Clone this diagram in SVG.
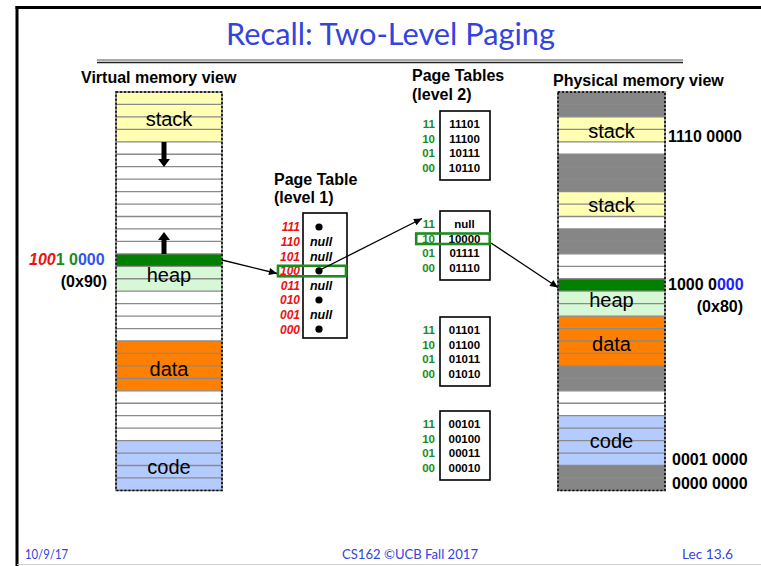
<svg xmlns="http://www.w3.org/2000/svg" width="761" height="566" viewBox="0 0 761 566">
<defs>
<style>
.h{font-family:"Liberation Sans",Arial,sans-serif;font-weight:bold;font-size:16px;fill:#000}
.mem{font-family:"Liberation Sans",Arial,sans-serif;font-size:20px;fill:#000;text-anchor:middle}
.addr{font-family:"Liberation Sans",Arial,sans-serif;font-weight:bold;font-size:16px;fill:#000}
.l1{font-family:"Liberation Sans",Arial,sans-serif;font-weight:bold;font-style:italic;font-size:12px;fill:#ee1111;text-anchor:end}
.nul{font-family:"Liberation Sans",Arial,sans-serif;font-weight:bold;font-style:italic;font-size:12.5px;fill:#000;text-anchor:middle}
.l2k{font-family:"Liberation Sans",Arial,sans-serif;font-weight:bold;font-size:11.5px;fill:#1a8c1a;text-anchor:end}
.l2v{font-family:"Liberation Sans",Arial,sans-serif;font-weight:bold;font-size:11.5px;fill:#000;text-anchor:middle}
.foot{font-family:Lato,"Liberation Sans",sans-serif;font-size:14px;fill:#3344dd}
.sep{stroke:#8a8a8a;stroke-width:1.3}
.ptbox{fill:#fff;stroke:#000;stroke-width:1.6}
.hl{fill:none;stroke:#1f8a1f;stroke-width:2.6}
.conn{stroke:#000;stroke-width:1.3;fill:none}
.yel{fill:#ffffb4}.grn{fill:#d6f8d6}.dg{fill:#007f00}.org{fill:#ff8000}.blu{fill:#b3cbff}.gry{fill:#868686}
.outer{fill:none;stroke:#777;stroke-width:1.5}
.outerd{fill:none;stroke:#000;stroke-width:1.5;stroke-dasharray:2 2}
</style>
<marker id="ah" viewBox="0 0 10 10" refX="10" refY="5" markerWidth="9" markerHeight="8" markerUnits="userSpaceOnUse" orient="auto">
<path d="M0,0.5 L10,5 L0,9.5 z" fill="#000"/>
</marker>
<g id="seps">
<line class="sep" x1="0" x2="1" y1="104.45" y2="104.45"/>
</g>
</defs>

<rect x="0" y="0" width="761" height="566" fill="#fff"/>
<!-- frame -->
<line x1="17" y1="6" x2="17" y2="566" stroke="#000" stroke-width="3"/>
<line x1="15.5" y1="7.5" x2="761" y2="7.5" stroke="#000" stroke-width="3"/>
<line x1="17" y1="564.5" x2="761" y2="564.5" stroke="#cfcfcf" stroke-width="1"/>

<g id="title">
<text x="390.5" y="45" text-anchor="middle" font-family="Lato,'Liberation Sans',sans-serif" font-size="30" fill="#3344dd" textLength="329" lengthAdjust="spacingAndGlyphs">Recall: Two-Level Paging</text>
<line x1="97" y1="60" x2="683" y2="60" stroke="#555" stroke-width="1.2"/>
<line x1="97" y1="62.6" x2="683" y2="62.6" stroke="#222" stroke-width="1.5"/>
</g>

<g id="virtual-memory">
<text class="h" x="81" y="83">Virtual memory view</text>
<rect x="116" y="92" width="106" height="398.4" fill="#fff"/>
<rect class="yel" x="116" y="92" width="106" height="49.8"/>
<rect class="dg" x="116" y="253.85" width="106" height="12.45"/>
<rect class="grn" x="116" y="266.3" width="106" height="24.9"/>
<rect class="org" x="116" y="341" width="106" height="49.8"/>
<rect class="blu" x="116" y="440.6" width="106" height="49.8"/>
<g class="sep">
<line x1="116" x2="222" y1="104.45" y2="104.45"/><line x1="116" x2="222" y1="116.9" y2="116.9"/><line x1="116" x2="222" y1="129.35" y2="129.35"/><line x1="116" x2="222" y1="141.8" y2="141.8"/><line x1="116" x2="222" y1="154.25" y2="154.25"/><line x1="116" x2="222" y1="166.7" y2="166.7"/><line x1="116" x2="222" y1="179.15" y2="179.15"/><line x1="116" x2="222" y1="191.6" y2="191.6"/><line x1="116" x2="222" y1="204.05" y2="204.05"/><line x1="116" x2="222" y1="216.5" y2="216.5"/><line x1="116" x2="222" y1="228.95" y2="228.95"/><line x1="116" x2="222" y1="241.4" y2="241.4"/><line x1="116" x2="222" y1="253.85" y2="253.85"/><line x1="116" x2="222" y1="266.3" y2="266.3"/><line x1="116" x2="222" y1="278.75" y2="278.75"/><line x1="116" x2="222" y1="291.2" y2="291.2"/><line x1="116" x2="222" y1="303.65" y2="303.65"/><line x1="116" x2="222" y1="316.1" y2="316.1"/><line x1="116" x2="222" y1="328.55" y2="328.55"/><line x1="116" x2="222" y1="341" y2="341"/><line x1="116" x2="222" y1="353.45" y2="353.45"/><line x1="116" x2="222" y1="365.9" y2="365.9"/><line x1="116" x2="222" y1="378.35" y2="378.35"/><line x1="116" x2="222" y1="390.8" y2="390.8"/><line x1="116" x2="222" y1="403.25" y2="403.25"/><line x1="116" x2="222" y1="415.7" y2="415.7"/><line x1="116" x2="222" y1="428.15" y2="428.15"/><line x1="116" x2="222" y1="440.6" y2="440.6"/><line x1="116" x2="222" y1="453.05" y2="453.05"/><line x1="116" x2="222" y1="465.5" y2="465.5"/><line x1="116" x2="222" y1="477.95" y2="477.95"/>
</g>
<rect class="outer" x="116" y="92" width="106" height="398.4"/>
<rect class="outerd" x="116" y="92" width="106" height="398.4"/>
<path d="M161.5,142 H166.5 V159 H170 L164,167 L158,159 H161.5 Z" fill="#000"/>
<path d="M161.5,254 H166.5 V240 H170 L164,232 L158,240 H161.5 Z" fill="#000"/>
<text class="mem" x="169" y="126">stack</text>
<text class="mem" x="169" y="282">heap</text>
<text class="mem" x="169" y="376">data</text>
<text class="mem" x="169" y="474">code</text>
<text class="addr" x="29" y="265"><tspan fill="#ee1111" font-style="italic">100</tspan><tspan fill="#1a8c1a">1 0</tspan><tspan fill="#3355ee">000</tspan></text>
<text class="addr" x="107" y="287" text-anchor="end">(0x90)</text>
</g>

<g id="page-table-l1">
<text class="h" x="274" y="185">Page Table</text>
<text class="h" x="274" y="203">(level 1)</text>
<rect class="ptbox" x="303" y="213" width="44" height="125"/>
<text class="l1" x="300" y="231.3">111</text>
<text class="l1" x="300" y="245.9">110</text>
<text class="l1" x="300" y="260.5">101</text>
<text class="l1" x="300" y="275.1">100</text>
<text class="l1" x="300" y="289.7">011</text>
<text class="l1" x="300" y="304.3">010</text>
<text class="l1" x="300" y="318.9">001</text>
<text class="l1" x="300" y="333.5">000</text>
<circle cx="319" cy="227" r="3.6" fill="#000"/>
<text class="nul" x="321" y="246">null</text>
<text class="nul" x="321" y="260.6">null</text>
<circle cx="319" cy="270.8" r="3.6" fill="#000"/>
<text class="nul" x="321" y="289.8">null</text>
<circle cx="319" cy="300" r="3.6" fill="#000"/>
<text class="nul" x="321" y="319">null</text>
<circle cx="319" cy="329.2" r="3.6" fill="#000"/>
<rect class="hl" x="278" y="265.8" width="68" height="10.5"/>
</g>

<g id="page-tables-l2">
<text class="h" x="412" y="81">Page Tables</text>
<text class="h" x="412" y="100">(level 2)</text>
</g>

<g id="pt2-a">
<rect class="ptbox" x="440" y="111" width="50" height="69"/>
<text class="l2k" x="435" y="128">11</text><text class="l2v" x="464.5" y="128">11101</text>
<text class="l2k" x="435" y="142.5">10</text><text class="l2v" x="464.5" y="142.5">11100</text>
<text class="l2k" x="435" y="157">01</text><text class="l2v" x="464.5" y="157">10111</text>
<text class="l2k" x="435" y="171.5">00</text><text class="l2v" x="464.5" y="171.5">10110</text>
</g>
<g id="pt2-b">
<rect class="ptbox" x="440" y="211" width="50" height="69"/>
<text class="l2k" x="435" y="228">11</text><text class="l2v" x="464.5" y="228">null</text>
<text class="l2k" x="435" y="242.5">10</text><text class="l2v" x="464.5" y="242.5">10000</text>
<text class="l2k" x="435" y="257">01</text><text class="l2v" x="464.5" y="257">01111</text>
<text class="l2k" x="435" y="271.5">00</text><text class="l2v" x="464.5" y="271.5">01110</text>
<rect class="hl" x="416.2" y="233.5" width="73.5" height="10.5"/>
</g>
<g id="pt2-c">
<rect class="ptbox" x="440" y="317" width="50" height="69"/>
<text class="l2k" x="435" y="334">11</text><text class="l2v" x="464.5" y="334">01101</text>
<text class="l2k" x="435" y="348.5">10</text><text class="l2v" x="464.5" y="348.5">01100</text>
<text class="l2k" x="435" y="363">01</text><text class="l2v" x="464.5" y="363">01011</text>
<text class="l2k" x="435" y="377.5">00</text><text class="l2v" x="464.5" y="377.5">01010</text>
</g>
<g id="pt2-d">
<rect class="ptbox" x="440" y="411" width="50" height="69"/>
<text class="l2k" x="435" y="428">11</text><text class="l2v" x="464.5" y="428">00101</text>
<text class="l2k" x="435" y="442.5">10</text><text class="l2v" x="464.5" y="442.5">00100</text>
<text class="l2k" x="435" y="457">01</text><text class="l2v" x="464.5" y="457">00011</text>
<text class="l2k" x="435" y="471.5">00</text><text class="l2v" x="464.5" y="471.5">00010</text>
</g>

<g id="physical-memory">
<text class="h" x="553" y="86">Physical memory view</text>
<rect x="558" y="92" width="107" height="398.4" fill="#fff"/>
<rect class="gry" x="558" y="92" width="107" height="24.9"/>
<rect class="yel" x="558" y="116.9" width="107" height="24.9"/>
<rect class="gry" x="558" y="154.25" width="107" height="37.35"/>
<rect class="yel" x="558" y="191.6" width="107" height="24.9"/>
<rect class="gry" x="558" y="228.95" width="107" height="24.9"/>
<rect class="dg" x="558" y="278.75" width="107" height="12.45"/>
<rect class="grn" x="558" y="291.2" width="107" height="24.9"/>
<rect class="org" x="558" y="316.1" width="107" height="49.8"/>
<rect class="gry" x="558" y="365.9" width="107" height="24.9"/>
<rect class="blu" x="558" y="415.7" width="107" height="49.8"/>
<rect class="gry" x="558" y="465.5" width="107" height="24.9"/>
<g class="sep">
<line x1="558" x2="665" y1="104.45" y2="104.45"/><line x1="558" x2="665" y1="116.9" y2="116.9"/><line x1="558" x2="665" y1="129.35" y2="129.35"/><line x1="558" x2="665" y1="141.8" y2="141.8"/><line x1="558" x2="665" y1="154.25" y2="154.25"/><line x1="558" x2="665" y1="166.7" y2="166.7"/><line x1="558" x2="665" y1="179.15" y2="179.15"/><line x1="558" x2="665" y1="191.6" y2="191.6"/><line x1="558" x2="665" y1="204.05" y2="204.05"/><line x1="558" x2="665" y1="216.5" y2="216.5"/><line x1="558" x2="665" y1="228.95" y2="228.95"/><line x1="558" x2="665" y1="241.4" y2="241.4"/><line x1="558" x2="665" y1="253.85" y2="253.85"/><line x1="558" x2="665" y1="266.3" y2="266.3"/><line x1="558" x2="665" y1="278.75" y2="278.75"/><line x1="558" x2="665" y1="291.2" y2="291.2"/><line x1="558" x2="665" y1="303.65" y2="303.65"/><line x1="558" x2="665" y1="316.1" y2="316.1"/><line x1="558" x2="665" y1="328.55" y2="328.55"/><line x1="558" x2="665" y1="341" y2="341"/><line x1="558" x2="665" y1="353.45" y2="353.45"/><line x1="558" x2="665" y1="365.9" y2="365.9"/><line x1="558" x2="665" y1="378.35" y2="378.35"/><line x1="558" x2="665" y1="390.8" y2="390.8"/><line x1="558" x2="665" y1="403.25" y2="403.25"/><line x1="558" x2="665" y1="415.7" y2="415.7"/><line x1="558" x2="665" y1="428.15" y2="428.15"/><line x1="558" x2="665" y1="440.6" y2="440.6"/><line x1="558" x2="665" y1="453.05" y2="453.05"/><line x1="558" x2="665" y1="465.5" y2="465.5"/><line x1="558" x2="665" y1="477.95" y2="477.95"/>
</g>
<rect class="outer" x="558" y="92" width="107" height="398.4"/>
<rect class="outerd" x="558" y="92" width="107" height="398.4"/>
<text class="mem" x="611.5" y="138">stack</text>
<text class="mem" x="611.5" y="212">stack</text>
<text class="mem" x="611.5" y="307">heap</text>
<text class="mem" x="611.5" y="351">data</text>
<text class="mem" x="611.5" y="448">code</text>
<text class="addr" x="668" y="142">1110 0000</text>
<text class="addr" x="668" y="290">1000 0<tspan fill="#2020ff">000</tspan></text>
<text class="addr" x="743" y="312" text-anchor="end">(0x80)</text>
<text class="addr" x="672" y="465">0001 0000</text>
<text class="addr" x="672" y="489">0000 0000</text>
</g>

<g id="connectors">
<path class="conn" d="M222,260 L277,273.5" marker-end="url(#ah)"/>
<path class="conn" d="M320,270 L422,218.5" marker-end="url(#ah)"/>
<path class="conn" d="M491,243 L558,287.5" marker-end="url(#ah)"/>
</g>

<g id="footer">
<text class="foot" x="25" y="559" textLength="43" lengthAdjust="spacingAndGlyphs">10/9/17</text>
<text class="foot" x="410" y="559" text-anchor="middle" textLength="136" lengthAdjust="spacingAndGlyphs">CS162 ©UCB Fall 2017</text>
<text class="foot" x="733" y="559" text-anchor="end" textLength="51" lengthAdjust="spacingAndGlyphs">Lec 13.6</text>
</g>
</svg>
